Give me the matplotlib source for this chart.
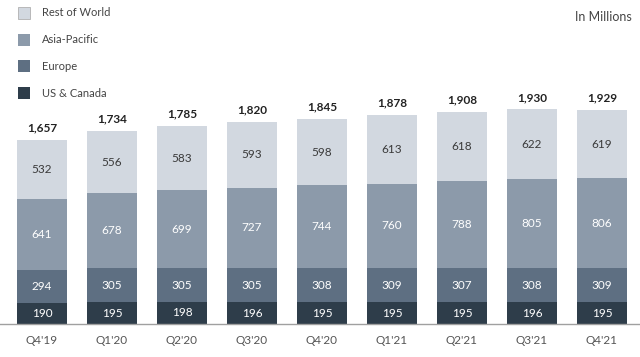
import numpy as np
import matplotlib.pyplot as plt
from matplotlib.patches import Rectangle

quarters = ["Q4'19", "Q1'20", "Q2'20", "Q3'20", "Q4'20", "Q1'21", "Q2'21", "Q3'21", "Q4'21"]
us_canada = [190, 195, 198, 196, 195, 195, 195, 196, 195]
europe = [294, 305, 305, 305, 308, 309, 307, 308, 309]
asia_pacific = [641, 678, 699, 727, 744, 760, 788, 805, 806]
rest_of_world = [532, 556, 583, 593, 598, 613, 618, 622, 619]
totals = [1657, 1734, 1785, 1820, 1845, 1878, 1908, 1930, 1929]

series = [("US & Canada", us_canada, "#2e3d4a", "white"),
          ("Europe", europe, "#5e6f82", "white"),
          ("Asia-Pacific", asia_pacific, "#8c9aaa", "white"),
          ("Rest of World", rest_of_world, "#d2d8e0", "#3a3a3a")]

plt.rcParams['font.family'] = ['Lato', 'DejaVu Sans']

fig = plt.figure(figsize=(6.4, 3.57), dpi=100)
ax = fig.add_axes([0, 0, 1, 1])
x = np.arange(len(quarters))
ax.set_xlim(-0.6, (640 - 42) / 70)
ax.set_ylim(-33 * 9.0, (357 - 33) * 9.0)
ax.axis('off')

bottom = np.zeros(len(quarters))
for name, vals, col, tcol in series:
    vals = np.array(vals)
    ax.bar(x, vals, 0.72, bottom=bottom, color=col, edgecolor='none')
    for xi, b, v in zip(x, bottom, vals):
        ax.text(xi, b + v / 2, str(v), ha='center', va='center', fontsize=8.5, color=tcol)
    bottom += vals

for xi, t in zip(x, totals):
    ax.text(xi, t + 60, f"{t:,}", ha='center', va='bottom', fontsize=8.5, color='#222222',
            fontweight='bold')

ax.axhline(0, color='#a0a0a0', lw=1)
for xi, q in zip(x, quarters):
    ax.text(xi, -150, q, ha='center', va='center', fontsize=8.5, color='#555555')

# legend
for i, (name, vals, col, tcol) in enumerate(series[::-1]):
    ypix = 13 + 26.7 * i
    fig.patches.append(Rectangle((18 / 640, 1 - (ypix + 6) / 357), 12 / 640, 12 / 357,
                                 transform=fig.transFigure, facecolor=col,
                                 edgecolor='#b0b0b0' if i == 0 else 'none', lw=0.6))
    fig.text(42 / 640, 1 - ypix / 357, name, ha='left', va='center', fontsize=8,
             color='#444444')

fig.text(632 / 640, 1 - 17 / 357, "In Millions", ha='right', va='center', fontsize=9,
         color='#444444')

fig.savefig('out.png', dpi=100)
